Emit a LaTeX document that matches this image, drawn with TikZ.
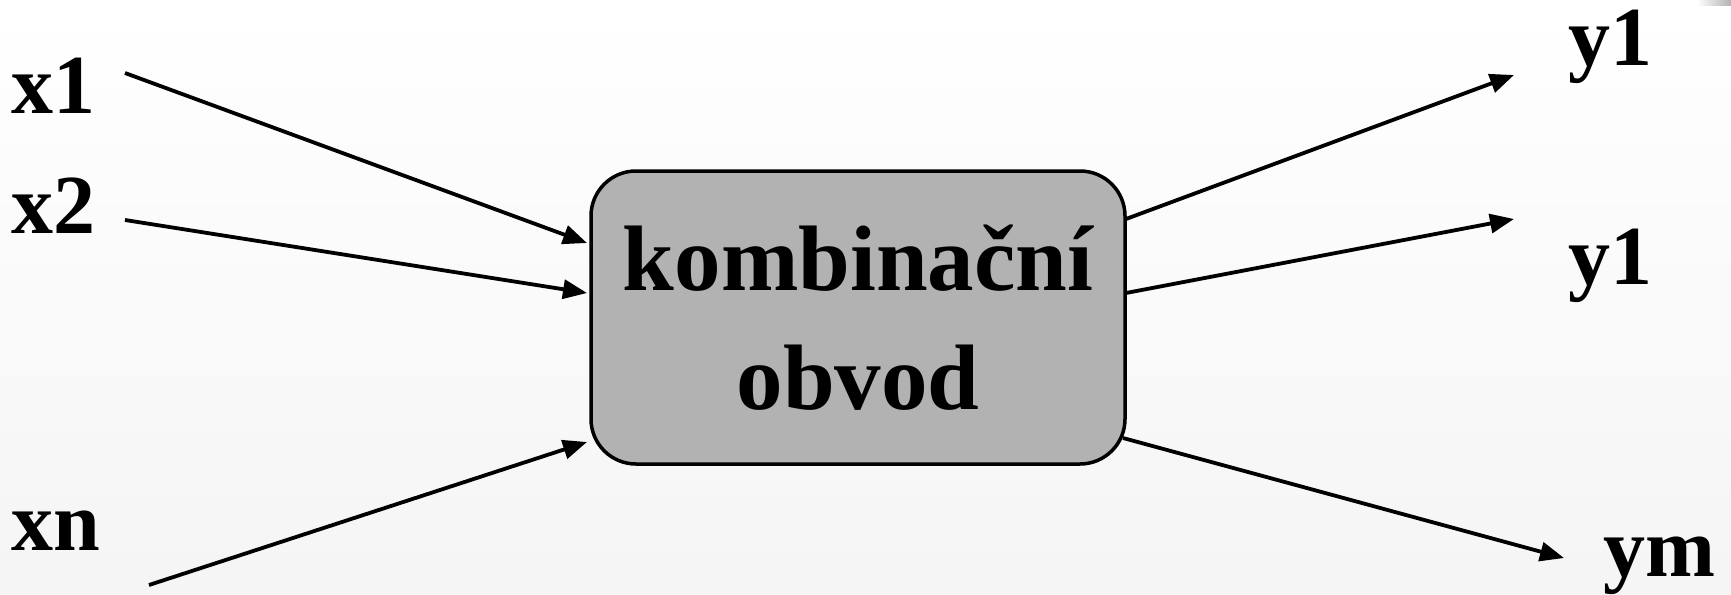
\documentclass[tikz,border=0pt]{standalone}
\usepackage{fontspec}
\setmainfont{Liberation Serif}
\usetikzlibrary{arrows.meta}
\tikzstyle{obvod} = [draw=black, line width=3.5pt, fill=black!30, rounded corners=45pt, minimum width=534pt, minimum height=293pt, align=center, inner sep=0pt, font=\fontsize{93}{119}\selectfont\bfseries]
\tikzstyle{signal} = [anchor=base west, inner sep=0pt, font=\fontsize{84}{90}\selectfont\bfseries]
\tikzstyle{arrow_signal} = [->, draw=black, line width=3.8pt]

\begin{document}
\begin{tikzpicture}[x=1pt, y=-1pt, >={Triangle[length=24pt,width=19pt]}]
      % Background
      \shade[top color=white, bottom color=black!4] (0,0) rectangle (1731,594);
      \shade[left color=white, right color=black!30] (1697,0) rectangle (1731,6);
      \useasboundingbox (0,0) rectangle (1731,594);

      \node[obvod] (box) at (858,317.5) {kombinační\\obvod};

      % Inputs
      \node[signal] (x1) at (11,113) {x1};
      \node[signal] (x2) at (11,233) {x2};
      \node[signal] (xn) at (11,550) {xn};

      % Outputs
      \node[signal] (y1) at (1568,66) {y1};
      \node[signal] (y2) at (1568,284) {y1};
      \node[signal] (ym) at (1603,576) {ym};

      \coordinate (x1_out) at (125,73);
      \coordinate (x2_out) at (125,220);
      \coordinate (xn_out) at (149,585);
      \coordinate (x1_in) at (587,243);
      \coordinate (x2_in) at (587,293);
      \coordinate (xn_in) at (587,442);
      \coordinate (y1_out) at (1126,219);
      \coordinate (y2_out) at (1126,293);
      \coordinate (ym_out) at (1123,438);
      \coordinate (y1_in) at (1514,75);
      \coordinate (y2_in) at (1514,219);
      \coordinate (ym_in) at (1564,558);

      % Input arrows
      \path[arrow_signal] (x1_out) -- (x1_in);
      \path[arrow_signal] (x2_out) -- (x2_in);
      \path[arrow_signal] (xn_out) -- (xn_in);

      % Output arrows
      \path[arrow_signal] (y1_out) -- (y1_in);
      \path[arrow_signal] (y2_out) -- (y2_in);
      \path[arrow_signal] (ym_out) -- (ym_in);

\end{tikzpicture}
\end{document}
